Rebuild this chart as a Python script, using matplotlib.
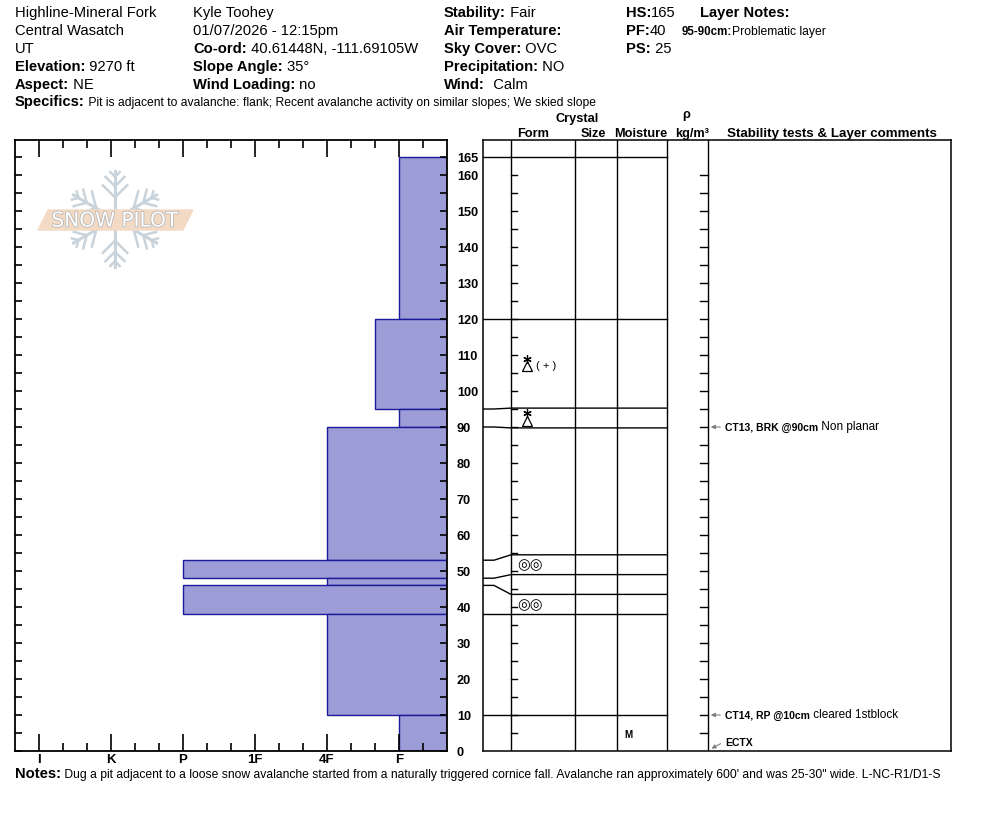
import numpy as np
import matplotlib.pyplot as plt
import matplotlib.patheffects as pe
from matplotlib.patches import Polygon

plt.rcParams['font.family'] = ['Liberation Sans', 'DejaVu Sans']

W, H = 994, 840

# snow layers, top to bottom (cm above ground)
layer_top = [165, 120, 95, 90, 53, 48, 46, 38, 10]
layer_bottom = [120, 95, 90, 53, 48, 46, 38, 10, 0]
hardness = ['F', 'F+', 'F', '4F', 'P', '4F', 'P', '4F', 'F']
grain = ['', 'startri+', 'startri', '', 'melt', '', 'melt', '', '']
moisture = ['', '', '', '', '', '', '', '', 'M']

hard_labels = ['I', 'K', 'P', '1F', '4F', 'F']

test_depth = [90, 10, 0]
test_name = ['CT13, BRK @90cm', 'CT14, RP @10cm', 'ECTX']
test_comment = ['Non planar', 'cleared 1stblock', '']

col1 = [('', 'Highline-Mineral Fork'), ('', 'Central Wasatch'), ('', 'UT'),
        ('Elevation:', ' 9270 ft'), ('Aspect:', ' NE')]
col2 = [('', 'Kyle Toohey'), ('', '01/07/2026 - 12:15pm'),
        ('Co-ord:', ' 40.61448N, -111.69105W'), ('Slope Angle:', ' 35°'),
        ('Wind Loading:', ' no')]
col3 = [('Stability:', ' Fair'), ('Air Temperature:', ''), ('Sky Cover:', ' OVC'),
        ('Precipitation:', ' NO'), ('Wind:', '  Calm')]
col4 = [('HS:', '165'), ('PF:', '40'), ('PS:', ' 25')]
specifics = ' Pit is adjacent to avalanche: flank; Recent avalanche activity on similar slopes; We skied slope'
notes = (' Dug a pit adjacent to a loose snow avalanche started from a naturally triggered cornice fall. '
         'Avalanche ran approximately 600\' and was 25-30" wide. L-NC-R1/D1-S')


def hval(h):
    v = hard_labels.index(h.rstrip('+-'))
    if h.endswith('+'):
        v -= 1 / 3
    elif h.endswith('-'):
        v += 1 / 3
    return v


def spread(depths, gap=5.5):
    # push layer lines apart so the table rows stay readable
    pos = np.array(depths, float)
    for _ in range(300):
        for i in range(len(pos) - 1):
            d = pos[i] - pos[i + 1]
            if d < gap:
                m = (gap - d) / 2
                pos[i] += m
                pos[i + 1] -= m
    return pos


fig = plt.figure(figsize=(W / 100, H / 100), dpi=100)

# background axes in pixel units for header / logo
bg = fig.add_axes([0, 0, 1, 1])
bg.set_xlim(0, W)
bg.set_ylim(H, 0)
bg.axis('off')


def pair(x, y, bold, normal, bsize=10.6, nsize=10.6):
    if bold:
        t = bg.text(x, y, bold, fontsize=bsize, fontweight='bold', va='baseline')
        if normal:
            bg.annotate(normal, xy=(1, 0), xycoords=t, fontsize=nsize, va='bottom')
    else:
        bg.text(x, y, normal, fontsize=nsize, va='baseline')


rows_y = [17, 35, 53, 71, 89]
for x, col in [(15, col1), (193, col2), (444, col3), (626, col4)]:
    for y, (b, n) in zip(rows_y, col):
        pair(x, y, b, n)
pair(700, 17, 'Layer Notes:', '')
pair(682, 35, '95-90cm:', 'Problematic layer', bsize=8.3, nsize=8.7)
pair(15, 106, 'Specifics:', specifics, nsize=8.7)
pair(15, 778, 'Notes:', notes, nsize=8.7)

# SnowPilot logo
cx, cy, R = 115, 219, 48
flake = '#c9d3db'
for k in range(6):
    a = np.pi / 2 + k * np.pi / 3
    dx, dy = np.cos(a), -np.sin(a)
    bg.plot([cx, cx + R * dx], [cy, cy + R * dy], color=flake, lw=2.2)
    for r, L in [(0.45, 0.36), (0.68, 0.28), (0.88, 0.14)]:
        px, py = cx + r * R * dx, cy + r * R * dy
        for s in (-1, 1):
            b = a + s * np.pi / 4
            bg.plot([px, px + L * R * np.cos(b)], [py, py - L * R * np.sin(b)],
                    color=flake, lw=1.8)
bg.add_patch(Polygon([(38, 230), (48, 210), (193, 210), (183, 230)],
                     closed=True, color='#f3dac5', zorder=3))
bg.text(115, 221, 'SNOW PILOT', fontsize=14.5, color='white', ha='center', va='center',
        family='DejaVu Sans', zorder=4,
        path_effects=[pe.withStroke(linewidth=1.2, foreground='#b8b8b8')])

# column headers
for txt, x, y in [('Crystal', 577, 122), ('Form', 533, 137), ('Size', 593, 137),
                  ('Moisture', 641, 137), ('ρ', 686, 118), ('kg/m³', 692, 137),
                  ('Stability tests & Layer comments', 832, 137)]:
    fs = 9.6 if txt.startswith('Stab') else 9.2
    bg.text(x, y, txt, fontsize=fs, fontweight='bold', ha='center', va='baseline')

ymax = (751 - 140) / 3.6
xmin, xmax = -1 / 3, 5 + 2 / 3

# hardness profile
axL = fig.add_axes([15 / W, 1 - 751 / H, 432 / W, 611 / H])
axL.patch.set_alpha(0)
for top, bot, h in zip(layer_top, layer_bottom, hardness):
    v = hval(h)
    axL.barh(bot, xmax - v, height=top - bot, left=v, align='edge',
             color='#9c9cd6', edgecolor='#1a1a9a', lw=1)
axL.set_xlim(xmin, xmax)
axL.set_ylim(0, ymax)
axL.set_xticks(range(len(hard_labels)))
axL.set_xticklabels(hard_labels, fontweight='bold', fontsize=9.5)
axL.set_xticks([i / 3 for i in range(17) if i % 3], minor=True)
axL.tick_params(axis='x', which='major', direction='in', length=12.5, width=1.2,
                top=True, pad=2)
axL.tick_params(axis='x', which='minor', direction='in', length=6, width=1.2, top=True)
axL.set_yticks(np.arange(0, 170, 5))
axL.tick_params(axis='y', direction='in', length=5, width=1.2, right=True,
                labelleft=False)
for s in axL.spines.values():
    s.set_linewidth(1.3)

# layer table
axR = fig.add_axes([483 / W, 1 - 751 / H, 468 / W, 611 / H])
axR.set_xlim(483, 951)
axR.set_ylim(0, ymax)
axR.set_xticks([])
axR.set_yticks([])
for s in axR.spines.values():
    s.set_linewidth(1.1)
for x in [511, 575, 617, 667, 708]:
    axR.axvline(x, color='black', lw=1)

for d in list(range(0, 161, 10)) + [165]:
    axR.text(457, d, str(d), fontsize=9.2, fontweight='bold', ha='left',
             va='center_baseline', clip_on=False)

disp = spread(layer_top)
for b, d in zip(layer_top, disp):
    axR.plot([483, 494, 511, 667], [b, b, d, d], color='black', lw=1)

for d in range(5, 165, 5):
    axR.plot([511, 517], [d, d], color='black', lw=1)
    axR.plot([700, 708], [d, d], color='black', lw=1)

disp_bottom = list(disp[1:]) + [0]
for g, m, top, bot in zip(grain, moisture, disp, disp_bottom):
    mid = (top + bot) / 2
    if g.startswith('startri'):
        # triangle with an asterisk on top, drawn as markers
        axR.plot(527, mid - 0.7, marker='^', ms=7, mfc='white', mec='black', mew=0.9)
        axR.plot(527, mid + 1.3, marker=(6, 2, 0), ms=6, mec='black', mew=0.9)
        if g.endswith('+'):
            axR.text(536, mid - 0.6, '( + )', fontsize=8, ha='left', va='center')
    elif g == 'melt':
        axR.text(517, mid, '◎◎', fontsize=10.5, ha='left', va='center',
                 family='DejaVu Sans')
    if m:
        axR.text(624, mid - 0.5, m, fontsize=7, fontweight='bold', ha='left', va='center')

for d, name, com in zip(test_depth, test_name, test_comment):
    if d > 0:
        axR.annotate('', xy=(708, d), xytext=(723, d),
                     arrowprops=dict(arrowstyle='-|>', color='gray', lw=0.8,
                                     mutation_scale=6))
        ty = d
    else:
        axR.annotate('', xy=(709, d + 0.3), xytext=(723, d + 2.4),
                     arrowprops=dict(arrowstyle='-|>', color='gray', lw=0.8,
                                     mutation_scale=6))
        ty = d + 2.6
    t = axR.text(725, ty, name, fontsize=7.5, fontweight='bold', ha='left',
                 va='center_baseline')
    if com:
        axR.annotate(' ' + com, xy=(1, 0), xycoords=t, fontsize=8.5, va='bottom')

fig.savefig('out.png', dpi=100)
